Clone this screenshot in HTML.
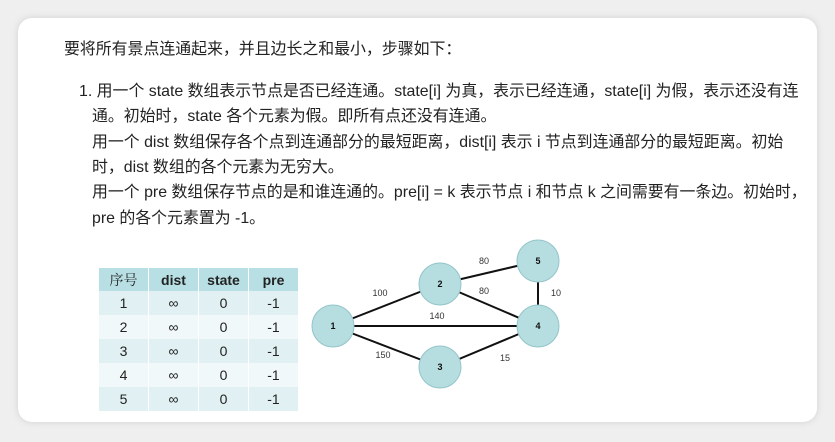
<!DOCTYPE html>
<html><head><meta charset="utf-8"><style>
body{margin:0;width:835px;height:442px;background:#efefef;overflow:hidden;font-family:"Liberation Sans","Noto Sans CJK SC",sans-serif;}
.card{position:absolute;left:18px;top:18px;width:799px;height:404px;background:#fff;border-radius:14px;box-shadow:0 0 8px rgba(0,0,0,0.12);}
.t{position:absolute;font-size:15.9px;color:#222;white-space:nowrap;}
table{position:absolute;left:99px;top:268px;border-collapse:collapse;font-size:14px;}
td,th{width:49px;height:24px;text-align:center;padding:0;border-right:1px solid #fff;color:#222;}
th{background:#b7dfe4;font-weight:bold;height:23px;}
tr:nth-child(even) td{background:#e1f1f3;}
tr:nth-child(odd) td{background:#f1f8f9;}
</style></head><body>
<div class="card"></div>
<div class="t" style="left:64px;top:36px">要将所有景点连通起来，并且边长之和最小，步骤如下：</div>
<div class="t" style="left:79px;top:78px">1. 用一个 state 数组表示节点是否已经连通。state[i] 为真，表示已经连通，state[i] 为假，表示还没有连</div>
<div class="t" style="left:92px;top:103px">通。初始时，state 各个元素为假。即所有点还没有连通。</div>
<div class="t" style="left:92px;top:129px">用一个 dist 数组保存各个点到连通部分的最短距离，dist[i] 表示 i 节点到连通部分的最短距离。初始</div>
<div class="t" style="left:92px;top:154px">时，dist 数组的各个元素为无穷大。</div>
<div class="t" style="left:92px;top:179px">用一个 pre 数组保存节点的是和谁连通的。pre[i] = k 表示节点 i 和节点 k 之间需要有一条边。初始时，</div>
<div class="t" style="left:92px;top:205px">pre 的各个元素置为 -1。</div>
<table>
<tr><th style="font-family:'Noto Serif CJK SC',serif;font-weight:normal">序号</th><th>dist</th><th>state</th><th>pre</th></tr>
<tr><td>1</td><td>∞</td><td>0</td><td>-1</td></tr>
<tr><td>2</td><td>∞</td><td>0</td><td>-1</td></tr>
<tr><td>3</td><td>∞</td><td>0</td><td>-1</td></tr>
<tr><td>4</td><td>∞</td><td>0</td><td>-1</td></tr>
<tr><td>5</td><td>∞</td><td>0</td><td>-1</td></tr>
</table>
<svg width="835" height="442" style="position:absolute;left:0;top:0" font-family="Liberation Sans,sans-serif">
<g stroke="#111" stroke-width="2">
<line x1="333" y1="326" x2="440" y2="284"/>
<line x1="333" y1="326" x2="538" y2="326"/>
<line x1="333" y1="326" x2="440" y2="367"/>
<line x1="440" y1="284" x2="538" y2="261"/>
<line x1="440" y1="284" x2="538" y2="326"/>
<line x1="538" y1="261" x2="538" y2="326"/>
<line x1="440" y1="367" x2="538" y2="326"/>
</g>
<g fill="#b6dde0" stroke="#93c5c9" stroke-width="1">
<circle cx="333" cy="326" r="21"/><circle cx="440" cy="284" r="21"/><circle cx="538" cy="261" r="21"/><circle cx="538" cy="326" r="21"/><circle cx="440" cy="367" r="21"/>
</g>
<g font-size="9" font-weight="bold" fill="#111" text-anchor="middle">
<text x="333" y="329">1</text><text x="440" y="287">2</text><text x="538" y="264">5</text><text x="538" y="329">4</text><text x="440" y="370">3</text>
</g>
<g font-size="9" fill="#333" text-anchor="middle">
<text x="380" y="296">100</text><text x="484" y="264">80</text><text x="484" y="294">80</text><text x="556" y="296">10</text><text x="437" y="319">140</text><text x="383" y="358">150</text><text x="505" y="361">15</text>
</g>
</svg>
</body></html>
